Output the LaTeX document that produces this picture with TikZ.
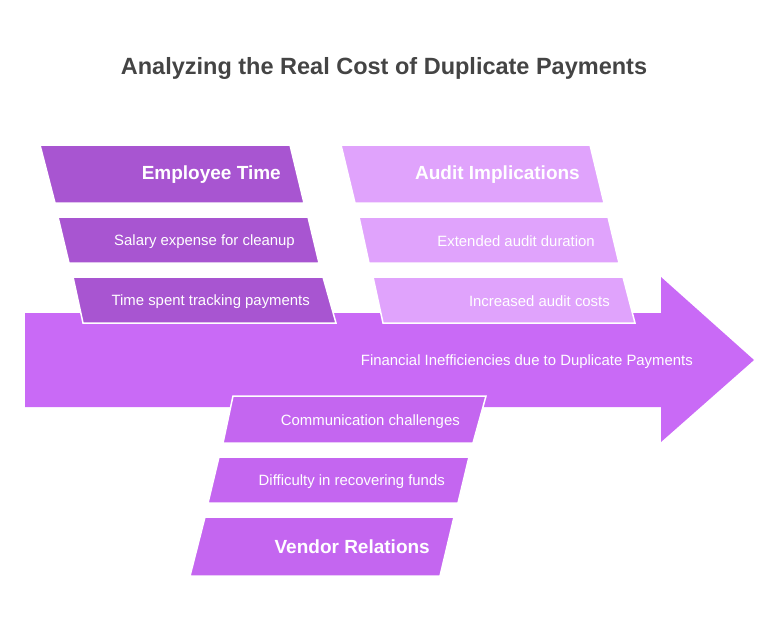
\documentclass[tikz,border=0pt]{standalone}
\usepackage{fontspec}
\setmainfont{Liberation Sans}
\definecolor{empC}{HTML}{A855D1}
\definecolor{audC}{HTML}{E0A3FC}
\definecolor{arrC}{HTML}{C96AF6}
\definecolor{venC}{HTML}{C466F0}
\definecolor{titleC}{HTML}{444444}
\begin{document}
\begin{tikzpicture}[x=1pt,y=-1pt,
  box/.style={draw=white,line width=1.5pt,line join=miter},
  item/.style={text=white,font=\fontsize{14.9}{17}\selectfont,anchor=east,inner sep=0pt},
  head/.style={text=white,font=\fontsize{19}{22}\selectfont\bfseries,anchor=east,inner sep=0pt}]
\useasboundingbox (0,0) rectangle (780,626);
\node[text=titleC,font=\fontsize{23.5}{27}\selectfont\bfseries] (title) at (384,68) {Analyzing the Real Cost of Duplicate Payments};
% main arrow
\fill[arrC] (25,313) -- (661,313) -- (661,277) -- (754,360) -- (661,442) -- (661,407) -- (25,407) -- cycle;
\node[item] (main) at (693,361.5) {Financial Inefficiencies due to Duplicate Payments};
% Employee time column
\path[box,fill=empC] (40,145) -- (290,145) -- (304,203) -- (55,203) -- cycle;
\node[head] (emp) at (281,175) {Employee Time};
\path[box,fill=empC] (58,217) -- (308,217) -- (319,263) -- (69,263) -- cycle;
\node[item] (sal) at (295,241.5) {Salary expense for cleanup};
\path[box,fill=empC] (73,277) -- (323,277) -- (336,323) -- (83,323) -- cycle;
\node[item] (tim) at (310,301.5) {Time spent tracking payments};
% Audit column
\path[box,fill=audC] (341,145) -- (590,145) -- (604,203) -- (355,203) -- cycle;
\node[head] (aud) at (580,175) {Audit Implications};
\path[box,fill=audC] (359,217) -- (608,217) -- (619,263) -- (369,263) -- cycle;
\node[item] (ext) at (595,241.5) {Extended audit duration};
\path[box,fill=audC] (373,277) -- (623,277) -- (635,323) -- (383,323) -- cycle;
\node[item] (inc) at (610,301.5) {Increased audit costs};
% Vendor column
\path[box,fill=venC] (233,396) -- (486,396) -- (473,443) -- (223,443) -- cycle;
\node[item] (com) at (460,421.5) {Communication challenges};
\path[box,fill=venC] (219,457) -- (469,457) -- (458,503) -- (208,503) -- cycle;
\node[item] (dif) at (445,481.5) {Difficulty in recovering funds};
\path[box,fill=venC] (205,517) -- (454,517) -- (440,576) -- (190,576) -- cycle;
\node[head] (ven) at (430,547) {Vendor Relations};
\end{tikzpicture}
\end{document}
